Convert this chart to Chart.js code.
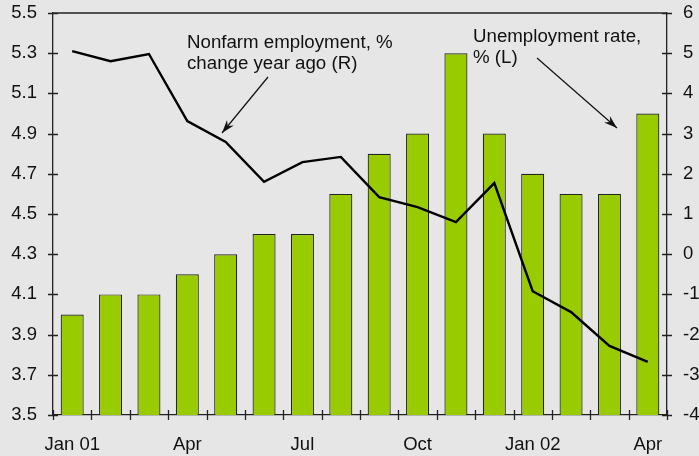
<!DOCTYPE html>
<html>
<head>
<meta charset="utf-8">
<script src="https://cdn.jsdelivr.net/npm/chart.js@4"></script>
<style>
  body { margin: 0; background: #e6e6e6; }
  canvas { display: block; }
</style>
</head>
<body>
<canvas id="myChart" width="699" height="456"></canvas>
<script>
// data
var months = ['Jan 01','Feb 01','Mar 01','Apr 01','May 01','Jun 01','Jul 01','Aug 01','Sep 01','Oct 01','Nov 01','Dec 01','Jan 02','Feb 02','Mar 02','Apr 02'];
var tickLabels = ['Jan 01','','','Apr','','','Jul','','','Oct','','','Jan 02','','','Apr'];
var unemployment = [4.0, 4.1, 4.1, 4.2, 4.3, 4.4, 4.4, 4.6, 4.8, 4.9, 5.3, 4.9, 4.7, 4.6, 4.6, 5.0];
var payrolls = [5.05, 4.8, 4.98, 3.31, 2.79, 1.8, 2.29, 2.42, 1.42, 1.17, 0.8, 1.77, -0.92, -1.44, -2.28, -2.68];

var FONT = '"Liberation Sans", Arial, Helvetica, sans-serif';
var INK = '#222';

// background + frame + crossing tick marks
var framePlugin = {
    id: 'frame',
    beforeDraw: function (chart) {
        var c = chart.ctx;
        c.save();
        c.fillStyle = '#e6e6e6';
        c.fillRect(0, 0, chart.width, chart.height);
        c.restore();
    },
    afterDraw: function (chart) {
        var c = chart.ctx, a = chart.chartArea;
        var x = chart.scales.x, y = chart.scales.y, y1 = chart.scales.y1;
        c.save();
        c.strokeStyle = INK;
        c.lineWidth = 1.3;
        c.beginPath();
        c.moveTo(a.left, a.top); c.lineTo(a.right, a.top);
        // left ticks
        y.ticks.forEach(function (t) {
            var p = Math.round(y.getPixelForValue(t.value)) + 0.5;
            c.moveTo(a.left - 5, p); c.lineTo(a.left + 5, p);
        });
        // right ticks
        y1.ticks.forEach(function (t) {
            var p = Math.round(y1.getPixelForValue(t.value)) + 0.5;
            c.moveTo(a.right - 5, p); c.lineTo(a.right + 5, p);
        });
        // bottom ticks between months
        var half = (x.getPixelForValue(1) - x.getPixelForValue(0)) / 2;
        for (var i = 0; i <= months.length; i++) {
            var px = Math.round(x.getPixelForValue(i) - half) + 0.5;
            c.moveTo(px, a.bottom - 5); c.lineTo(px, a.bottom + 5);
        }
        c.stroke();
        c.restore();
    }
};

function arrow(c, x0, y0, x1, y1) {
    var ang = Math.atan2(y1 - y0, x1 - x0);
    c.beginPath();
    c.moveTo(x0, y0); c.lineTo(x1, y1);
    c.stroke();
    c.beginPath();
    c.moveTo(x1, y1);
    c.lineTo(x1 - 14 * Math.cos(ang - 0.32), y1 - 14 * Math.sin(ang - 0.32));
    c.lineTo(x1 - 9 * Math.cos(ang), y1 - 9 * Math.sin(ang));
    c.lineTo(x1 - 14 * Math.cos(ang + 0.32), y1 - 14 * Math.sin(ang + 0.32));
    c.closePath();
    c.fill();
}

var notePlugin = {
    id: 'notes',
    afterDatasetsDraw: function (chart) {
        var c = chart.ctx;
        c.save();
        c.fillStyle = '#111';
        c.strokeStyle = '#111';
        c.lineWidth = 1.2;
        c.font = '18.7px ' + FONT;
        c.textBaseline = 'alphabetic';
        c.fillText('Nonfarm employment, %', 187, 48);
        c.fillText('change year ago (R)', 187, 69);
        c.fillText('Unemployment rate,', 473, 42);
        c.fillText('% (L)', 473, 63);
        arrow(c, 268, 77, 222, 133);
        arrow(c, 537, 58, 617, 128);
        c.restore();
    }
};

function fitY(w) {
    return function (s) {
        s.width = w;
        s.paddingTop = 0;
        s.paddingBottom = 0;
    };
}

new Chart(document.getElementById('myChart'), {
    data: {
        labels: months,
        datasets: [
            {
                type: 'line',
                data: payrolls,
                yAxisID: 'y1',
                borderColor: '#000',
                borderWidth: 2.4,
                pointRadius: 0,
                tension: 0,
                order: 0
            },
            {
                type: 'bar',
                data: unemployment,
                yAxisID: 'y',
                backgroundColor: '#99cc00',
                borderColor: '#222',
                borderWidth: 1.2,
                barPercentage: 0.6,
                categoryPercentage: 1,
                order: 1
            }
        ]
    },
    options: {
        responsive: false,
        animation: false,
        layout: { padding: { top: 13, left: 0, right: 0, bottom: 0 } },
        plugins: {
            legend: { display: false },
            tooltip: { enabled: false }
        },
        scales: {
            x: {
                offset: true,
                grid: { display: false, offset: true },
                border: { color: INK, width: 1.3 },
                ticks: {
                    autoSkip: false,
                    maxRotation: 0,
                    padding: 11,
                    color: '#111',
                    font: { family: FONT, size: 18.5 },
                    callback: function (v, i) { return tickLabels[i]; }
                },
                afterFit: function (s) { s.height = 41; }
            },
            y: {
                position: 'left',
                min: 3.5,
                max: 5.5,
                grid: { display: false },
                border: { color: INK, width: 1.3 },
                ticks: {
                    stepSize: 0.2,
                    padding: 8,
                    color: '#111',
                    font: { family: FONT, size: 18.5 },
                    callback: function (v) { return v.toFixed(1); }
                },
                afterFit: fitY(53)
            },
            y1: {
                position: 'right',
                min: -4,
                max: 6,
                grid: { display: false },
                border: { color: INK, width: 1.3 },
                ticks: {
                    stepSize: 1,
                    padding: 8,
                    color: '#111',
                    font: { family: FONT, size: 18.5 }
                },
                afterFit: fitY(32)
            }
        }
    },
    plugins: [framePlugin, notePlugin]
});
</script>
</body>
</html>
